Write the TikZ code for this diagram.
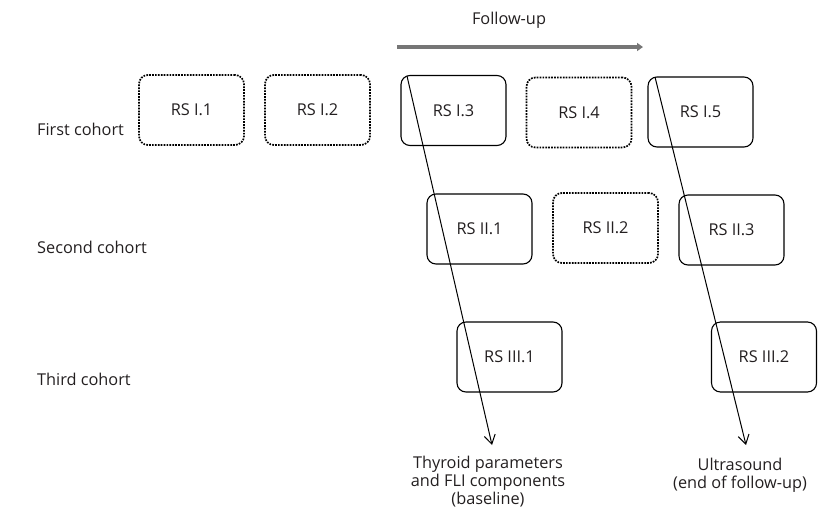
\documentclass[tikz,border=0pt]{standalone}
\usepackage{fontspec}
\setmainfont{Open Sans}
\usetikzlibrary{arrows.meta}
\definecolor{fgray}{RGB}{118,118,118}
\definecolor{txt}{RGB}{35,31,32}
\tikzset{
  rsbox/.style={draw, line width=1.1pt, rounded corners=9pt, minimum width=105pt, minimum height=70pt, inner sep=0pt, text=txt, font=\fontsize{16.3pt}{18pt}\selectfont},
  rsdot/.style={rsbox, dotted, line width=1.7pt, dash pattern=on 1.7pt off 1.2pt, line cap=butt},
  lbl/.style={font=\fontsize{16.3pt}{18pt}\selectfont, inner sep=0pt, text=txt},
  thinarrow/.style={line width=1pt, -{Straight Barb[length=9pt,width=11pt,line width=1pt]}},
}
\begin{document}
\begin{tikzpicture}[x=1pt,y=-1pt]
\useasboundingbox (0,0) rectangle (818,509);
% follow-up
\node[lbl] (fu) at (509,20) {Follow-up};
\coordinate (fa) at (397,47);
\coordinate (fb) at (643,47);
\draw[fgray, line width=4pt, -{Triangle[length=6pt,width=8pt]}] (fa) -- (fb);
% cohort labels
\node[lbl, anchor=west] (c1) at (37,129) {First cohort};
\node[lbl, anchor=west] (c2) at (37,247) {Second cohort};
\node[lbl, anchor=west] (c3) at (37,379) {Third cohort};
% boxes
\node[rsdot] (i1) at (191.5,110) {RS I.1};
\node[rsdot] (i2) at (317.5,110) {RS I.2};
\node[rsbox] (i3) at (453.5,110.5) {RS I.3};
\node[rsdot] (i4) at (579,112.5) {RS I.4};
\node[rsbox] (i5) at (700.5,112) {RS I.5};
\node[rsbox] (ii1) at (479.5,229) {RS II.1};
\node[rsdot] (ii2) at (605.5,228) {RS II.2};
\node[rsbox] (ii3) at (731.5,230) {RS II.3};
\node[rsbox] (iii1) at (509.5,357) {RS III.1};
\node[rsbox] (iii2) at (764,357) {RS III.2};
% bottom labels
\node[lbl, align=center] (t1) at (488,482) {Thyroid parameters\\and FLI components\\(baseline)};
\node[lbl, align=center] (t2) at (740,475) {Ultrasound\\(end of follow-up)};
% arrows
\coordinate (s1) at (407,76);
\coordinate (e1) at (492,445);
\coordinate (s2) at (655,77);
\coordinate (e2) at (746,445);
\draw[thinarrow] (s1) -- (e1);
\draw[thinarrow] (s2) -- (e2);
\end{tikzpicture}
\end{document}
